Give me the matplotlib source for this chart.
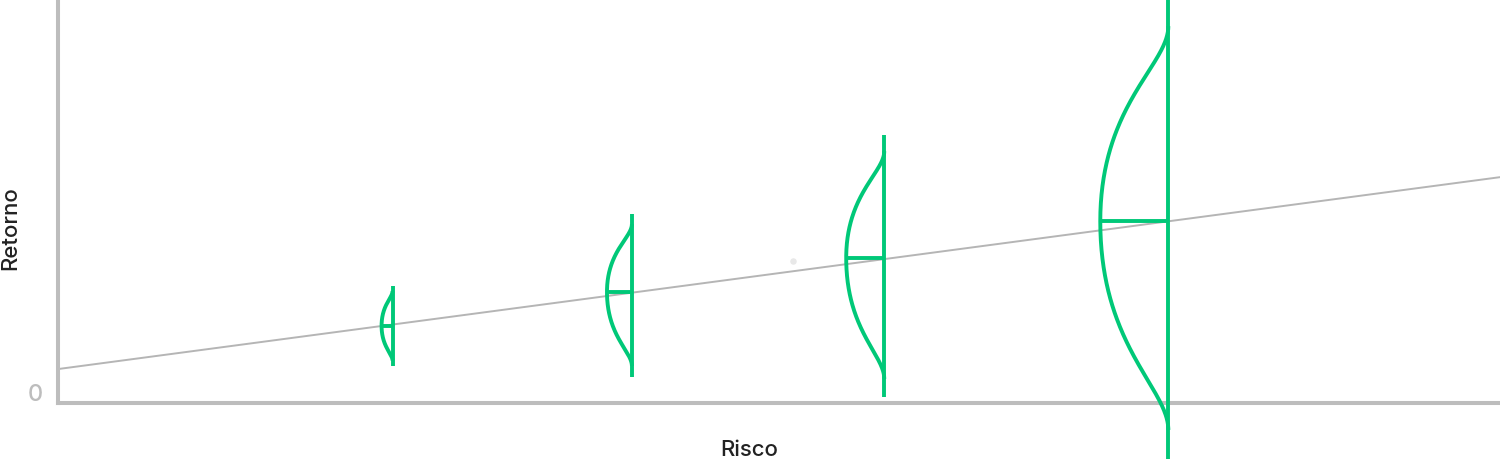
import numpy as np
import matplotlib.pyplot as plt

plt.rcParams['font.family'] = ['Inter', 'DejaVu Sans']

# risco (x) e distribuicao de retorno de cada ativo
risco = [2.32, 3.98, 5.73, 7.70]
retorno = [1.91, 2.75, 3.59, 4.50]      # retorno medio
topo = [2.90, 4.68, 6.63, 10.05]        # fim superior da faixa
base = [0.92, 0.64, 0.15, -1.44]        # fim inferior da faixa
largura = [0.076, 0.173, 0.264, 0.472]  # meia largura da curva

# linha de tendencia risco x retorno
intercepto = 0.84
inclinacao = 0.475

# ponto solto
ponto_x = [5.10]
ponto_y = [3.51]

verde = "#00C878"
cinza = "#BDBDBD"

fig = plt.figure(figsize=(15, 4.6), dpi=100)
ax = fig.add_axes([58/1500, 56/460, 1 - 58/1500, 1 - 56/460])
ax.set_xlim(0, 10)
ax.set_ylim(0, 404/40.4)

xs = np.array([0, 10])
ax.plot(xs, intercepto + inclinacao*xs, color="#B5B5B5", lw=1.4, zorder=1)

ax.scatter(ponto_x, ponto_y, s=22, color="#E8E8E8", lw=0, zorder=1)


def meia_curva(e, a=0.2, b=0.6, n=150):
    # bezier cubica: da ponta (largura 0) ate o pico (largura 1)
    t = np.linspace(0, 1, n)
    w = 3*t**2 - 2*t**3
    d = (1-t)**3 + 3*(1-t)**2*t*(1-a) + 3*(1-t)*t**2*b
    return w, d*e


for x, m, hi, lo, w in zip(risco, retorno, topo, base, largura):
    wu, du = meia_curva(0.87*(hi - m))
    wd, dd = meia_curva(0.87*(m - lo))
    ys = np.concatenate([m + du, (m - dd)[::-1]])
    ws = np.concatenate([wu, wd[::-1]])
    ax.plot(x - w*ws, ys, color=verde, lw=2.8, clip_on=False, zorder=3,
            solid_capstyle="butt")
    ax.plot([x, x], [lo, hi], color=verde, lw=2.8, clip_on=False, zorder=3,
            solid_capstyle="butt")
    ax.plot([x - w, x], [m, m], color=verde, lw=2.8, zorder=3,
            solid_capstyle="butt")

for side in ["top", "right"]:
    ax.spines[side].set_visible(False)
for side in ["left", "bottom"]:
    ax.spines[side].set_color(cinza)
    ax.spines[side].set_linewidth(2.9)
    ax.spines[side].set_zorder(2)
ax.set_xticks([])
ax.set_yticks([])

ax.text(-0.155, -0.05, "0", color=cinza, fontsize=17, ha="center",
        va="bottom", fontweight="medium")
fig.text(749/1500, 1 - 450/460, "Risco", color="#222222", fontsize=16,
         ha="center", va="center", fontweight="medium")
fig.text(10/1500, 1 - 228/460, "Retorno", color="#222222", fontsize=16,
         ha="center", va="center", rotation=90, fontweight="medium")

fig.savefig("out.png", dpi=100)
